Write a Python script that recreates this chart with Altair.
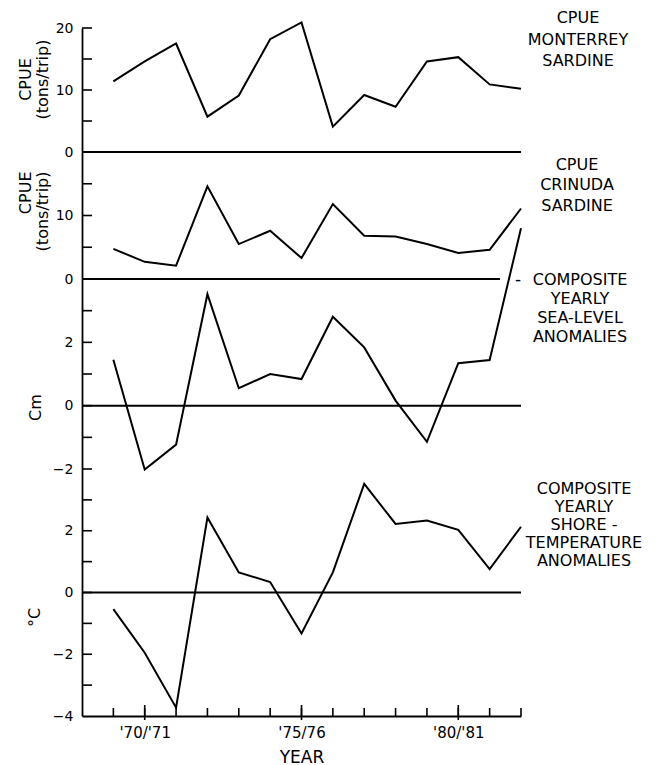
import json
import altair as alt
import pandas as pd

# ---------------- data ----------------
YEARS = [1969, 1970, 1971, 1972, 1973, 1974, 1975, 1976, 1977, 1978, 1979, 1980, 1981, 1982]
MONTERREY = [11.4, 14.6, 17.5, 5.7, 9.1, 18.2, 20.9, 4.1, 9.2, 7.3, 14.6, 15.3, 10.9, 10.2]
CRINUDA = [4.75, 2.7, 2.1, 14.6, 5.5, 7.6, 3.3, 11.8, 6.8, 6.7, 5.5, 4.1, 4.6, 11.1]
SEA_LEVEL = [1.45, -2.02, -1.23, 3.52, 0.55, 1.0, 0.84, 2.81, 1.84, 0.16, -1.14, 1.34, 1.44, 5.6]
SHORE_TEMP = [-0.54, -1.95, -3.73, 2.43, 0.65, 0.34, -1.33, 0.65, 3.52, 2.22, 2.33, 2.03, 0.76, 2.13]

X_LABEL_YEARS = [1970, 1975, 1980]
X_LABELS = ["'70/'71", "'75/76", "'80/'81"]

NOTE_MONTERREY = ["CPUE", "MONTERREY", "SARDINE"]
NOTE_CRINUDA = ["CPUE", "CRINUDA", "SARDINE"]
NOTE_SEA = ["COMPOSITE", "YEARLY", "SEA-LEVEL", "ANOMALIES"]
NOTE_TEMP = ["COMPOSITE", "YEARLY", "SHORE -", "TEMPERATURE", "ANOMALIES"]

X_MIN, X_MAX = 1968, 1982
FONT = "DejaVu Sans"
W = 439
H4 = 247


def xscale():
    return alt.Scale(domain=[X_MIN, X_MAX], nice=False, zero=False)


def panel(values, domain, height, label_vals, tick_vals, title, tkw,
          zero_end, note, nkw, xaxis=None, extra=None):
    df = pd.DataFrame({"year": YEARS, "v": values})
    ys = alt.Scale(domain=domain, nice=False, zero=False)
    yaxis = alt.Axis(
        values=label_vals, title=title, ticks=False, tickSize=0, grid=False,
        domainColor="black", domainWidth=1.8, format="d",
        labelFont=FONT, labelFontSize=14, labelColor="black", labelPadding=9,
        titleFont=FONT, titleFontSize=16, titleFontWeight="normal",
        titleColor="black", titleAngle=270, titleBaseline="middle",
        titleLineHeight=17, **tkw)
    line = alt.Chart(df).mark_line(color="black", strokeWidth=2).encode(
        x=alt.X("year:Q", scale=xscale(), axis=xaxis),
        y=alt.Y("v:Q", scale=ys, axis=yaxis))
    ticks = alt.Chart(pd.DataFrame({"v": tick_vals})).mark_tick(
        orient="horizontal", size=10, thickness=1.6, xOffset=5,
        color="black", opacity=1).encode(
        x=alt.XDatum(X_MIN, scale=xscale(), axis=xaxis),
        y=alt.Y("v:Q", scale=ys, axis=yaxis))
    zero = alt.Chart(pd.DataFrame({"v": [0]})).mark_rule(
        color="black", strokeWidth=2).encode(
        x=alt.XDatum(X_MIN, scale=xscale(), axis=xaxis),
        x2=alt.X2Datum(zero_end),
        y=alt.Y("v:Q", scale=ys, axis=yaxis))
    txt = alt.Chart(pd.DataFrame({"a": [0]})).mark_text(
        text=note, font=FONT, fontSize=16, color="black",
        align="center", baseline="middle", lineHeight=nkw["lh"]).encode(
        x=alt.value(nkw["x"]), y=alt.value(nkw["y"]))
    layers = [zero, ticks, line, txt]
    if extra:
        layers += extra(ys, yaxis, xaxis, domain)
    return alt.layer(*layers).properties(width=W, height=height)


label_expr = " : ".join(
    f"datum.value == {y} ? {json.dumps(l)}" for y, l in zip(X_LABEL_YEARS, X_LABELS)
) + " : ''"

x_axis = alt.Axis(
    values=X_LABEL_YEARS, labelExpr=label_expr, title="YEAR", ticks=False,
    tickSize=0, grid=False, domainColor="black", domainWidth=1.8,
    labelFont=FONT, labelFontSize=15, labelColor="black", labelPadding=9,
    titleFont=FONT, titleFontSize=17, titleFontWeight="normal",
    titleColor="black", titleY=41, titleBaseline="middle")


def sea_extra(ys, yaxis, xaxis, domain):
    dash = alt.Chart(pd.DataFrame({"a": [0]})).mark_text(
        text="-", font=FONT, fontSize=17, color="black",
        align="center", baseline="middle").encode(
        x=alt.value(436), y=alt.value(1))
    return [dash]


def temp_extra(ys, yaxis, xaxis, domain):
    minor = alt.Chart(pd.DataFrame({"year": YEARS})).mark_rule(
        color="black", strokeWidth=1.6).encode(
        x=alt.X("year:Q", scale=xscale(), axis=xaxis),
        y=alt.value(H4), y2=alt.value(H4 - 8))
    major = alt.Chart(pd.DataFrame({"year": X_LABEL_YEARS})).mark_rule(
        color="black", strokeWidth=1.6).encode(
        x=alt.X("year:Q", scale=xscale(), axis=xaxis),
        y=alt.value(H4 + 4), y2=alt.value(H4 - 11))
    return [minor, major]


p1 = panel(MONTERREY, [0, 20], 124, [0, 10, 20], [5, 10, 15, 20],
           ["CPUE", "(tons/trip)"], dict(titleAlign="center", titleX=-57, titleY=51),
           X_MAX, NOTE_MONTERREY, dict(x=496, y=-10, lh=21.5))
p2 = panel(CRINUDA, [0, 20], 127, [0, 10], [0, 5, 10, 15],
           ["CPUE", "(tons/trip)"], dict(titleAlign="right", titleX=-57, titleY=19),
           1981.33, NOTE_CRINUDA, dict(x=495, y=12.5, lh=20.5))
p3 = panel(SEA_LEVEL, [-2, 4], 190, [-2, 0, 2], [-2, -1, 0, 1, 2, 3],
           "Cm", dict(titleAlign="center", titleX=-47, titleY=128),
           X_MAX, NOTE_SEA, dict(x=498, y=0.5, lh=19.2), extra=sea_extra)
p4 = panel(SHORE_TEMP, [-4, 4], H4, [-4, -2, 0, 2], [-3, -2, -1, 0, 1, 2, 3],
           "°C", dict(titleAlign="center", titleX=-47.5, titleY=148),
           X_MAX, NOTE_TEMP, dict(x=502, y=20, lh=18), xaxis=x_axis,
           extra=temp_extra)

chart = alt.vconcat(p1, p2, p3, p4, spacing=0, bounds="flush").properties(
    padding={"left": 9, "top": 2, "right": 5, "bottom": 0},
    autosize=alt.AutoSizeParams(type="pad"),
    background="white",
).configure_view(stroke=None)

chart.save("out.html", embed_options={"renderer": "svg", "actions": False})
